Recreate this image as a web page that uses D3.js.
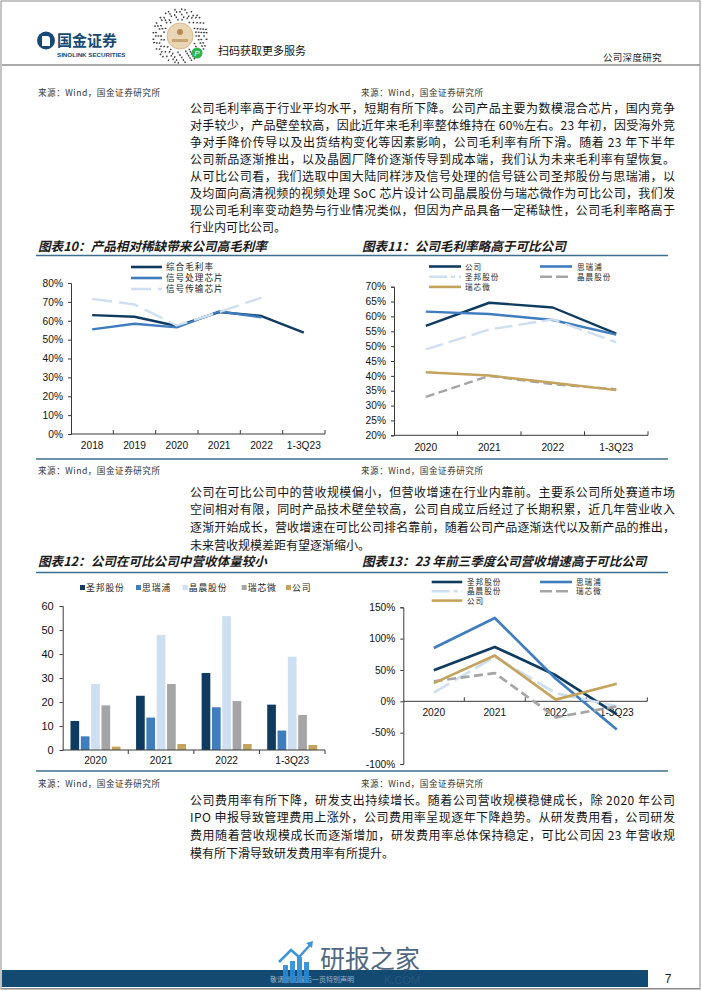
<!DOCTYPE html>
<html><head><meta charset="utf-8">
<script src="https://cdn.jsdelivr.net/npm/d3@7"></script>
<style>body{margin:0;background:#fff}svg{display:block}</style>
</head><body>
<svg id="page" width="702" height="991"></svg>
<script>
// ---------- DATA ----------
const years10 = ["2018","2019","2020","2021","2022","1-3Q23"];
const names10 = ["综合毛利率","信号处理芯片","信号传输芯片"];
const c10Total = [63.0, 62.1, 57.2, 64.6, 62.5, 53.7];
const c10Proc  = [55.4, 58.4, 56.5, 65.0, 61.8, null];
const c10Trans = [71.6, 68.6, 57.5, 64.6, 72.2, null];
const ticks10 = [0,10,20,30,40,50,60,70,80];

const years11 = ["2020","2021","2022","1-3Q23"];
const names11 = ["公司","思瑞浦","圣邦股份","晶晨股份","瑞芯微"];
const c11Company = [56.8, 64.6, 63.0, 54.2];
const c11Srp     = [61.6, 60.8, 58.8, 53.9];
const c11Sgm     = [48.9, 55.6, 59.0, 51.3];
const c11Aml     = [32.9, 40.0, 37.2, 35.5];
const c11Rk      = [41.2, 40.1, 37.7, 35.2];
const ticks11 = [20,25,30,35,40,45,50,55,60,65,70];

const years12 = ["2020","2021","2022","1-3Q23"];
const names12 = ["圣邦股份","思瑞浦","晶晨股份","瑞芯微","公司"];
const c12Sgm = [12.1, 22.6, 32.1, 18.9];
const c12Srp = [5.7, 13.5, 17.8, 8.1];
const c12Aml = [27.5, 47.9, 55.8, 38.9];
const c12Rk  = [18.6, 27.5, 20.4, 14.6];
const c12Co  = [1.4, 2.5, 2.5, 2.1];
const ticks12 = [0,10,20,30,40,50,60];

const years13 = ["2020","2021","2022","1-3Q23"];
const names13 = ["圣邦股份","思瑞浦","晶晨股份","瑞芯微","公司"];
const c13Sgm = [49.5, 86.7, 41.5, -21];
const c13Srp = [85, 133, 36, -45];
const c13Aml = [14, 71, 13, -8];
const c13Rk  = [32, 45, -25.5, -8];
const c13Co  = [29, 73, 2.7, 28];
const ticks13 = [-100,-50,0,50,100,150];

const para1 = [
 "公司毛利率高于行业平均水平，短期有所下降。公司产品主要为数模混合芯片，国内竞争",
 "对手较少，产品壁垒较高，因此近年来毛利率整体维持在 60%左右。23 年初，因受海外竞",
 "争对手降价传导以及出货结构变化等因素影响，公司毛利率有所下滑。随着 23 年下半年",
 "公司新品逐渐推出，以及晶圆厂降价逐渐传导到成本端，我们认为未来毛利率有望恢复。",
 "从可比公司看，我们选取中国大陆同样涉及信号处理的信号链公司圣邦股份与思瑞浦，以",
 "及均面向高清视频的视频处理 SoC 芯片设计公司晶晨股份与瑞芯微作为可比公司，我们发",
 "现公司毛利率变动趋势与行业情况类似，但因为产品具备一定稀缺性，公司毛利率略高于",
 "行业内可比公司。"];
const para2 = [
 "公司在可比公司中的营收规模偏小，但营收增速在行业内靠前。主要系公司所处赛道市场",
 "空间相对有限，同时产品技术壁垒较高，公司自成立后经过了长期积累，近几年营业收入",
 "逐渐开始成长，营收增速在可比公司排名靠前，随着公司产品逐渐迭代以及新产品的推出，",
 "未来营收规模差距有望逐渐缩小。"];
const para3 = [
 "公司费用率有所下降，研发支出持续增长。随着公司营收规模稳健成长，除 2020 年公司",
 "IPO 申报导致管理费用上涨外，公司费用率呈现逐年下降趋势。从研发费用看，公司研发",
 "费用随着营收规模成长而逐渐增加，研发费用率总体保持稳定，可比公司因 23 年营收规",
 "模有所下滑导致研发费用率有所提升。"];

// ---------- STYLE ----------
const CJK = "'Noto Sans CJK SC', 'Noto Sans', sans-serif";
const ARIAL = "'Liberation Sans', Arial, sans-serif";
const NAVY = "#0f3b60", MID = "#3f7dbf", LIGHT = "#cddff1", GRAY = "#a5a5a5", GOLD = "#c4a35c";
const RULE = "#3f6f8f";

const svg = d3.select("#page");

// page frame
svg.append("rect").attr("x",1).attr("y",1).attr("width",699).attr("height",988)
  .attr("fill","none").attr("stroke","#8a8a8a").attr("stroke-width",1);

// ---------- HEADER ----------
const hdr = svg.append("g");
hdr.append("circle").attr("cx",46).attr("cy",40.5).attr("r",9).attr("fill","#164a74");
hdr.append("path").attr("d","M42,36 h5 a3,3 0 0 1 3,3 v7 h-8 z").attr("fill","#fff");
hdr.append("text").attr("x",57).attr("y",46).text("国金证券")
  .attr("font-family",CJK).attr("font-weight","bold").attr("font-size",15).attr("fill","#164a74");
hdr.append("text").attr("x",57).attr("y",57).text("SINOLINK SECURITIES")
  .attr("font-family",ARIAL).attr("font-weight","bold").attr("font-size",6.2).attr("fill","#164a74");
// mini-program code (decorative)
const qr = hdr.append("g").attr("transform","translate(180,36)");
for (let ring=0; ring<5; ring++){
  const r = 15.5 + ring*2.6, n = 26 + ring*6;
  for (let j=0;j<n;j++){
    if (((ring*7 + j*13) % 5) < 3){
      const a = j/n*2*Math.PI;
      qr.append("line").attr("x1",Math.cos(a)*r).attr("y1",Math.sin(a)*r)
        .attr("x2",Math.cos(a)*(r+1.8)).attr("y2",Math.sin(a)*(r+1.8))
        .attr("stroke","#3a3a3a").attr("stroke-width",1.3);
    }
  }
}
qr.append("circle").attr("r",13).attr("fill","#ead5b4");
qr.append("circle").attr("r",13).attr("fill","none").attr("stroke","#d9bb8e").attr("stroke-width",1);
qr.append("circle").attr("cy",-4).attr("r",3).attr("fill","#b48a55");
qr.append("rect").attr("x",-8).attr("y",3).attr("width",16).attr("height",3).attr("fill","#c9a576");
qr.append("circle").attr("cx",17).attr("cy",17).attr("r",5.5).attr("fill","#2db34e");
qr.append("text").attr("x",17).attr("y",20).attr("text-anchor","middle").text("P")
  .attr("font-family",ARIAL).attr("font-size",8).attr("font-style","italic").attr("fill","#fff");
hdr.append("text").attr("x",218).attr("y",54.5).text("扫码获取更多服务")
  .attr("font-family",CJK).attr("font-size",11).attr("fill","#111");
hdr.append("text").attr("x",603).attr("y",60.5).text("公司深度研究")
  .attr("font-family",CJK).attr("font-size",9.5).attr("letter-spacing",0.3).attr("fill","#222");
svg.append("line").attr("x1",2).attr("x2",700).attr("y1",65).attr("y2",65)
  .attr("stroke","#8c8c8c").attr("stroke-width",1.6);

// ---------- helpers ----------
function source(x,y){
  svg.append("text").attr("x",x).attr("y",y).text("来源：Wind，国金证券研究所")
    .attr("font-family",CJK).attr("font-size",8.6).attr("letter-spacing",0.5).attr("fill","#333");
}
function para(lines,x0,y0,lh,w){
  lines.forEach((t,i)=>{
    const el = svg.append("text").attr("x",x0).attr("y",y0+i*lh).text(t)
      .attr("font-family",CJK).attr("font-size",12).attr("fill","#151515");
    if (i<lines.length-1) el.attr("textLength",w).attr("lengthAdjust","spacing");
  });
}
function title(x,y,t){
  svg.append("text").attr("x",x).attr("y",y).text(t)
    .attr("font-family",CJK).attr("font-size",12.6).attr("font-weight","bold")
    .attr("font-style","italic").attr("fill","#1a1a1a");
}
function rule(y){
  svg.append("line").attr("x1",36).attr("x2",668).attr("y1",y).attr("y2",y)
    .attr("stroke",RULE).attr("stroke-width",1.4);
}
function yAxis(g, y, x0, ticks, fmt){
  const ax = g.append("g").attr("transform",`translate(${x0},0)`)
    .call(d3.axisLeft(y).tickValues(ticks).tickFormat(fmt).tickSize(3).tickPadding(5));
  ax.select(".domain").attr("stroke","#3a3a3a");
  ax.selectAll(".tick line").attr("stroke","#3a3a3a");
  ax.selectAll("text").attr("font-family",ARIAL).attr("font-size",10.2).attr("fill","#111");
}
function xAxis(g, x, yLine, yLabel, tickUp){
  const r = x.range();
  g.append("line").attr("x1",r[0]).attr("x2",r[1]).attr("y1",yLine).attr("y2",yLine)
    .attr("stroke","#3a3a3a").attr("stroke-width",1);
  const dom = x.domain();
  for (let i=1;i<dom.length;i++){
    const bx = x(dom[i]) - x.step()*x.paddingInner()/2;
    g.append("line").attr("x1",bx).attr("x2",bx).attr("y1",yLine).attr("y2",yLine+(tickUp?-4:4))
      .attr("stroke","#3a3a3a");
  }
  g.append("line").attr("x1",r[1]).attr("x2",r[1]).attr("y1",yLine).attr("y2",yLine+(tickUp?-4:4))
      .attr("stroke","#3a3a3a");
  g.selectAll(null).data(dom).join("text")
    .attr("x",d=>x(d)+x.bandwidth()/2).attr("y",yLabel).attr("text-anchor","middle").text(d=>d)
    .attr("font-family",ARIAL).attr("font-size",10.2).attr("fill","#111");
}
function series(g, x, y, cats, vals, st){
  const pts = cats.map((c,i)=>({c,v:vals[i]})).filter(d=>d.v!=null);
  g.append("path").datum(pts)
    .attr("d", d3.line().x(d=>x(d.c)+x.bandwidth()/2).y(d=>y(d.v)))
    .attr("fill","none").attr("stroke",st.color).attr("stroke-width",st.w||2.4)
    .attr("stroke-dasharray",st.dash||null).attr("stroke-linejoin","round");
}
function legendLine(g, x1, x2, y, tx, label, st, fs){
  g.append("line").attr("x1",x1).attr("x2",x2).attr("y1",y).attr("y2",y)
    .attr("stroke",st.color).attr("stroke-width",2.6).attr("stroke-dasharray",st.dash||null);
  g.append("text").attr("x",tx).attr("y",y+3).text(label)
    .attr("font-family",CJK).attr("font-size",fs||8.6).attr("letter-spacing",1).attr("fill","#222");
}

// ---------- PARAGRAPHS ----------
source(38, 96); source(361, 96);
para(para1, 190, 112.5, 17, 485);
para(para2, 190, 496.5, 17.9, 485);
para(para3, 190, 804.5, 17.9, 485);

// ---------- CHART 10 ----------
title(38, 250.5, "图表10：产品相对稀缺带来公司高毛利率");
title(362, 250.5, "图表11：公司毛利率略高于可比公司");
rule(255.5); rule(459); source(38, 474); source(361, 474);
{
  const g = svg.append("g");
  const x = d3.scaleBand().domain(years10).range([71,325]);
  const y = d3.scaleLinear().domain([0,80]).range([434,283]);
  yAxis(g, y, 71, ticks10, d=>d+"%");
  xAxis(g, x, 434, 449, true);
  const st = [{color:NAVY},{color:MID},{color:LIGHT,dash:"20,7"}];
  series(g,x,y,years10,c10Total,st[0]);
  series(g,x,y,years10,c10Proc,st[1]);
  series(g,x,y,years10,c10Trans,st[2]);
  [267,278,289].forEach((yy,i)=>legendLine(g,131,162,yy,166,names10[i],st[i]));
}
// ---------- CHART 11 ----------
{
  const g = svg.append("g");
  const x = d3.scaleBand().domain(years11).range([394,648]);
  const y = d3.scaleLinear().domain([20,70]).range([435.3,286.7]);
  yAxis(g, y, 394, ticks11, d=>d+"%");
  xAxis(g, x, 435.3, 450.5, true);
  const st = [{color:NAVY},{color:MID},{color:LIGHT,dash:"18,6"},{color:GRAY,dash:"9,4.5"},{color:GOLD}];
  [c11Company,c11Srp,c11Sgm,c11Aml,c11Rk].forEach((v,i)=>series(g,x,y,years11,v,st[i]));
  legendLine(g,429,461,266.5,465,names11[0],st[0],7.6);
  legendLine(g,540,572,266.5,577,names11[1],st[1],7.6);
  legendLine(g,429,461,276.7,465,names11[2],{color:LIGHT,dash:"18,4,4,4"},7.6);
  legendLine(g,540,572,276.7,577,names11[3],{color:GRAY,dash:"12,4"},7.6);
  legendLine(g,429,461,286.9,465,names11[4],st[4],7.6);
}

// ---------- CHART 12 ----------
title(38, 565.5, "图表12：公司在可比公司中营收体量较小");
title(362, 565.5, "图表13：23 年前三季度公司营收增速高于可比公司");
rule(572.5); rule(771); source(38, 786.5); source(361, 786.5);
{
  const g = svg.append("g");
  const x = d3.scaleBand().domain(years12).range([62.7,325]);
  const y = d3.scaleLinear().domain([0,60]).range([750,606]);
  const colors = [NAVY,MID,LIGHT,GRAY,GOLD];
  const sets = [c12Sgm,c12Srp,c12Aml,c12Rk,c12Co];
  const xs = d3.scaleBand().domain(names12).range([0,50]).paddingInner(0.16);
  sets.forEach((vals,si)=>{
    g.selectAll(null).data(years12.map((c,i)=>({c,v:vals[i]}))).join("rect")
      .attr("x",d=>x(d.c)+x.bandwidth()/2-25+xs(names12[si]))
      .attr("width",xs.bandwidth())
      .attr("y",d=>y(d.v)).attr("height",d=>y(0)-y(d.v)).attr("fill",colors[si]);
  });
  const ax = g.append("g").attr("transform","translate(62.7,0)")
    .call(d3.axisLeft(y).tickValues(ticks12).tickSize(3).tickPadding(6));
  ax.select(".domain").attr("stroke","#3a3a3a");
  ax.selectAll(".tick line").attr("stroke","#3a3a3a");
  ax.selectAll("text").attr("font-family",ARIAL).attr("font-size",11).attr("fill","#111");
  xAxis(g, x, 750, 763.5, false);
  const lx = [80,136,182.7,241.7,286];
  names12.forEach((n,i)=>{
    g.append("rect").attr("x",lx[i]).attr("y",585).attr("width",5).attr("height",5).attr("fill",colors[i]);
    g.append("text").attr("x",lx[i]+6).attr("y",591).text(n)
      .attr("font-family",CJK).attr("font-size",8.8).attr("letter-spacing",0.9).attr("fill","#222");
  });
}
// ---------- CHART 13 ----------
{
  const g = svg.append("g");
  const x = d3.scaleBand().domain(years13).range([403.3,647.3]);
  const y = d3.scaleLinear().domain([-100,150]).range([764,607.3]);
  yAxis(g, y, 403.3, ticks13, d=>d+"%");
  xAxis(g, x, y(0), 715.5, true);
  const st = [{color:NAVY,w:2.7},{color:MID,w:2.7},{color:LIGHT,dash:"18,6",w:2.7},{color:GRAY,dash:"9,4.5",w:2.7},{color:GOLD,w:2.7}];
  [c13Sgm,c13Srp,c13Aml,c13Rk,c13Co].forEach((v,i)=>series(g,x,y,years13,v,st[i]));
  legendLine(g,431.7,462.3,582,467,names13[0],st[0],7.6);
  legendLine(g,540,572,582,576,names13[1],st[1],7.6);
  legendLine(g,431.7,462.3,591.3,467,names13[2],{color:LIGHT,dash:"18,4,4,4"},7.6);
  legendLine(g,540,572,591.3,576,names13[3],{color:GRAY,dash:"12,4"},7.6);
  legendLine(g,431.7,462.3,600.6,467,names13[4],st[4],7.6);
}

// ---------- FOOTER ----------
svg.append("rect").attr("x",2).attr("y",970).attr("width",646).attr("height",17).attr("fill","#134a72");
svg.append("line").attr("x1",2).attr("x2",700).attr("y1",988.5).attr("y2",988.5).attr("stroke","#8a8a8a");
svg.append("text").attr("x",668).attr("y",983).attr("text-anchor","middle").text("7")
  .attr("font-family",ARIAL).attr("font-size",12).attr("fill","#222");
svg.append("text").attr("x",270).attr("y",982).text("敬请参阅最后一页特别声明")
  .attr("font-family",CJK).attr("font-size",7).attr("fill","#9fb3c8");
svg.append("text").attr("x",384).attr("y",983.5).text("K.COM")
  .attr("font-family",ARIAL).attr("font-size",11).attr("fill","#2e5c82").attr("opacity",0.8);
// watermark
const wm = svg.append("g").attr("opacity",0.9);
[[283,8],[290,12],[297,16],[304,11]].forEach(([bx,h])=>{
  wm.append("rect").attr("x",bx).attr("y",983-h-10).attr("width",5).attr("height",h+10).attr("fill","#2a8ad6");
});
wm.append("path").attr("d","M279,962 L291,950 L299,957 L311,944").attr("fill","none")
  .attr("stroke","#2a8ad6").attr("stroke-width",2.5);
wm.append("path").attr("d","M306,943 L313,941 L312,948 z").attr("fill","#2a8ad6");
wm.append("text").attr("x",320).attr("y",968).text("研报之家")
  .attr("font-family",CJK).attr("font-size",25).attr("fill","#3d5873");
</script>
</body></html>
